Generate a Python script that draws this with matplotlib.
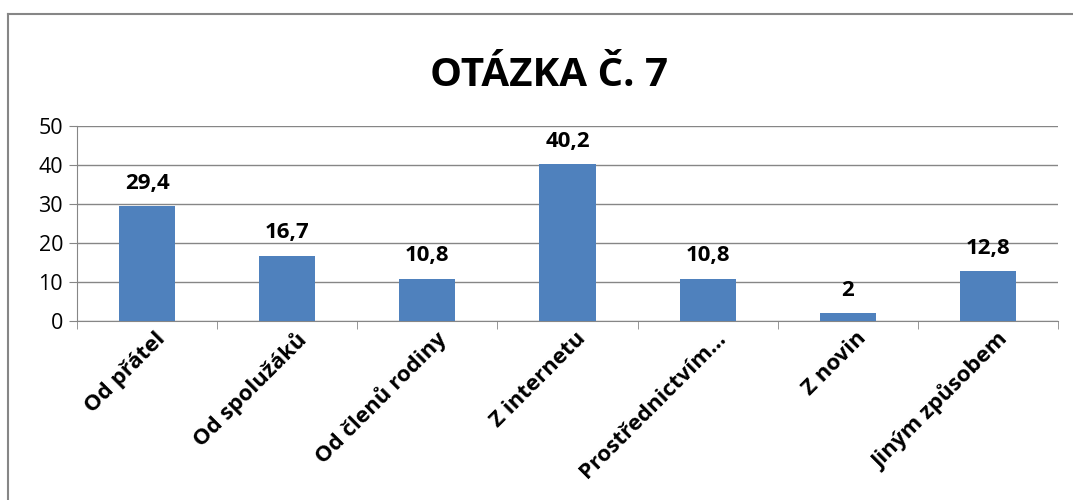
import matplotlib.pyplot as plt
from matplotlib.lines import Line2D
from matplotlib.transforms import ScaledTranslation

plt.rcParams['font.family'] = ['Open Sans', 'DejaVu Sans']

categories = ['Od přátel', 'Od spolužáků', 'Od členů rodiny', 'Z internetu',
              'Prostřednictvím…', 'Z novin', 'Jiným způsobem']
values = [29.4, 16.7, 10.8, 40.2, 10.8, 2, 12.8]
value_labels = ['29,4', '16,7', '10,8', '40,2', '10,8', '2', '12,8']

bar_color = '#4F81BD'
grid_color = '#868686'

fig = plt.figure(figsize=(10.73, 5), dpi=100)
ax = fig.add_axes([77 / 1073, 1 - 321 / 500, (1058 - 77) / 1073, (321 - 126) / 500])

x = list(range(len(categories)))
ax.bar(x, values, width=0.4, color=bar_color, zorder=3)

for xi, v, lab in zip(x, values, value_labels):
    ax.annotate(lab, (xi, v), xytext=(0, 9), textcoords='offset points',
                ha='center', va='bottom', fontsize=16, fontweight='bold')

ax.set_xlim(-0.5, len(categories) - 0.5)
ax.set_ylim(0, 50)
ax.set_yticks([0, 10, 20, 30, 40, 50])
ax.yaxis.grid(True, color=grid_color, linewidth=1)
ax.set_axisbelow(True)

ax.set_xticks(x)
ax.set_xticklabels(categories, rotation=45, ha='right', rotation_mode='anchor',
                   fontsize=16, fontweight='bold')
ax.tick_params(axis='x', length=0, pad=5)
# nudge category labels a little to the right, like Excel places them
shift = ScaledTranslation(0.08, 0, fig.dpi_scale_trans)
for lbl in ax.get_xticklabels():
    lbl.set_transform(lbl.get_transform() + shift)
ax.set_xticks([i - 0.5 for i in range(len(categories) + 1)], minor=True)
ax.tick_params(axis='x', which='minor', length=6, color=grid_color)
ax.tick_params(axis='y', length=6, color=grid_color, labelsize=15.5, pad=4)

for side in ['top', 'right']:
    ax.spines[side].set_visible(False)
ax.spines['left'].set_color(grid_color)
ax.spines['bottom'].set_color(grid_color)

fig.text(549 / 1073, 1 - 75 / 500, 'OTÁZKA Č. 7', ha='center', va='center',
         fontsize=29, fontweight='bold')

# outer chart border (only top and left visible in the crop)
bx = 7.5 / 1073
by = 1 - 13.5 / 500
fig.add_artist(Line2D([bx, bx], [0, by], transform=fig.transFigure,
                      color=grid_color, linewidth=1.5))
fig.add_artist(Line2D([bx, 1], [by, by], transform=fig.transFigure,
                      color=grid_color, linewidth=1.5))

fig.savefig('out.png', dpi=100)
